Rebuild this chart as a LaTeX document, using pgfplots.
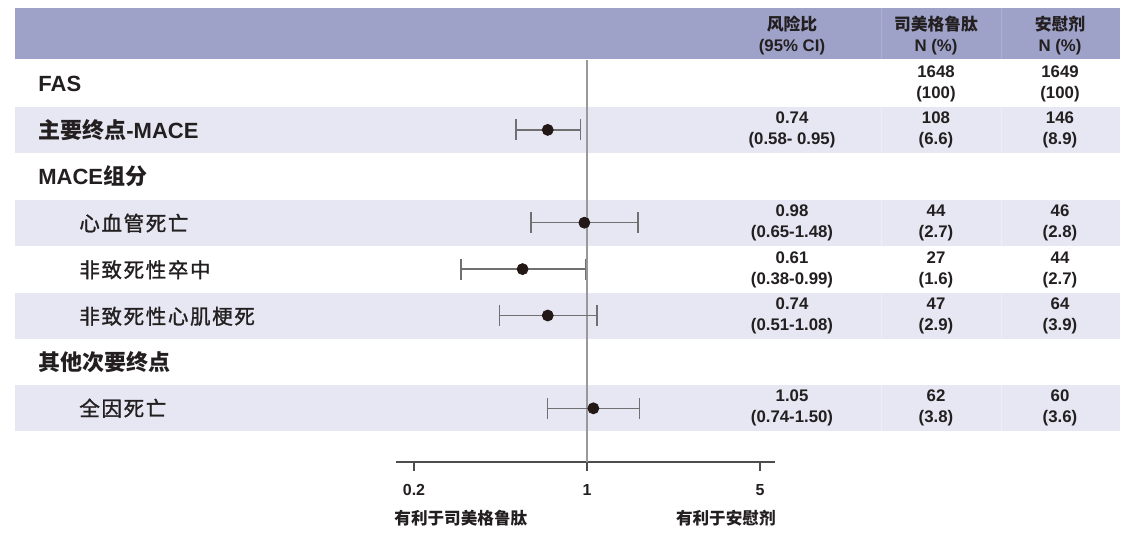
\documentclass[border=0pt]{standalone}
\usepackage{fontspec}
\setmainfont{Liberation Sans}
\newfontfamily\cjk{Noto Sans CJK SC}
\newfontfamily\cjksub[LetterSpace=8, FakeBold=1.3]{Noto Sans CJK SC}
\usepackage{pgfplots}
\pgfplotsset{compat=1.18}
\definecolor{hdr}{HTML}{9EA2C8}
\definecolor{hdrline}{HTML}{ADB0D3}
\definecolor{shd}{HTML}{E6E7F2}
\definecolor{txt}{HTML}{231F20}
\definecolor{dotc}{HTML}{231815}
\definecolor{cic}{HTML}{707070}
\definecolor{refc}{HTML}{999999}
\definecolor{axc}{HTML}{4D4D4D}
\newcommand{\hd}{\fontsize{11}{13}\selectfont\bfseries}
\newcommand{\sub}{\fontsize{10.25}{12}\selectfont}
\newcommand{\num}{\fontsize{8.4}{10.5}\selectfont\bfseries}
\begin{document}
\begin{tikzpicture}[x=0.5pt,y=-0.5pt]
\path[use as bounding box] (0,0) rectangle (1140,538);
% header band
\fill[hdr] (15,8) rectangle (1120,59);
\draw[hdrline, line width=0.5pt] (881,8) -- (881,59) (1001,8) -- (1001,59);
% shaded rows
\foreach \a/\b in {107/153,200/246,293/339,385/431}
  \fill[shd] (15,\a) rectangle (1120,\b);
\draw[white!30!shd, line width=0.4pt] (881,107)--(881,153) (1001,107)--(1001,153)
  (881,200)--(881,246) (1001,200)--(1001,246) (881,293)--(881,339) (1001,293)--(1001,339)
  (881,385)--(881,431) (1001,385)--(1001,431);
% header text
\begin{scope}[every node/.style={inner sep=0pt, align=center, text=txt, font=\num}]
\node at (792,35) {{\cjk\bfseries 风险比}\\(95\% CI)};
\node at (936,35) {{\cjk\bfseries 司美格鲁肽}\\N (\%)};
\node at (1060,35) {{\cjk\bfseries 安慰剂}\\N (\%)};
% right columns
\node at (936,83.5) {1648\\(100)};
\node at (1060,83.5) {1649\\(100)};
\node at (792,130) {0.74\\(0.58- 0.95)};
\node at (936,130) {108\\(6.6)};
\node at (1060,130) {146\\(8.9)};
\node at (792,223) {0.98\\(0.65-1.48)};
\node at (936,223) {44\\(2.7)};
\node at (1060,223) {46\\(2.8)};
\node at (792,269.5) {0.61\\(0.38-0.99)};
\node at (936,269.5) {27\\(1.6)};
\node at (1060,269.5) {44\\(2.7)};
\node at (792,316) {0.74\\(0.51-1.08)};
\node at (936,316) {47\\(2.9)};
\node at (1060,316) {64\\(3.9)};
\node at (792,408) {1.05\\(0.74-1.50)};
\node at (936,408) {62\\(3.8)};
\node at (1060,408) {60\\(3.6)};
\end{scope}
% left labels
\begin{scope}[every node/.style={inner sep=0pt, text=txt, anchor=base west}]
\node[font=\hd] at (38,91.5) {FAS};
\node[font=\hd] at (38,138) {{\cjk 主要终点}-MACE};
\node[font=\hd] at (38,184.5) {MACE{\cjk 组分}};
\node[font=\hd] at (38,370) {{\cjk 其他次要终点}};
\node[font=\sub] at (79,231) {\cjksub 心血管死亡};
\node[font=\sub] at (79,277.5) {\cjksub 非致死性卒中};
\node[font=\sub] at (79,324) {\cjksub 非致死性心肌梗死};
\node[font=\sub] at (79,416) {\cjksub 全因死亡};
% bottom labels
\node[font=\fontsize{8.3}{10}\selectfont\bfseries] at (394,524) {\cjk 有利于司美格鲁肽};
\node[font=\fontsize{8.3}{10}\selectfont\bfseries, anchor=base east] at (776,524) {\cjk 有利于安慰剂};
\end{scope}
\begin{axis}[
  at={(198pt,-231pt)}, anchor=south west,
  scale only axis, width=189.5pt, height=201pt,
  xmode=log, xmin=0.2309, xmax=4.233,
  ymin=-0.157, ymax=8.506,
  axis x line*=bottom, axis y line=none,
  x axis line style={-, axc, line width=1pt},
  xtick={0.2651,1,3.772}, xticklabels={0.2,1,5},
  minor xtick={}, ytick=\empty,
  tick align=outside, major tick length=4.5pt,
  xtick style={axc, line width=0.6pt},
  xticklabel style={font=\fontsize{8}{9.6}\selectfont\bfseries, text=txt, inner sep=0pt, anchor=north, yshift=-6.5pt},
  clip=false,
]
\addplot[refc, line width=0.8pt] coordinates {(1,-0.157) (1,8.506)};
\pgfplotsset{cistyle/.style={cic, line width=0.65pt, mark=|, mark size=5.25pt, mark options={solid, line width=0.65pt}}}
\addplot[cistyle] coordinates {(0.58,7) (0.95,7)};
\addplot[cistyle] coordinates {(0.65,5) (1.48,5)};
\addplot[cistyle] coordinates {(0.38,4) (0.99,4)};
\addplot[cistyle] coordinates {(0.51,3) (1.08,3)};
\addplot[cistyle] coordinates {(0.74,1) (1.50,1)};
\addplot[only marks, mark=*, mark size=2.75pt, color=dotc] coordinates {(0.74,7) (0.98,5) (0.61,4) (0.74,3) (1.05,1)};
\end{axis}
\end{tikzpicture}
\end{document}
